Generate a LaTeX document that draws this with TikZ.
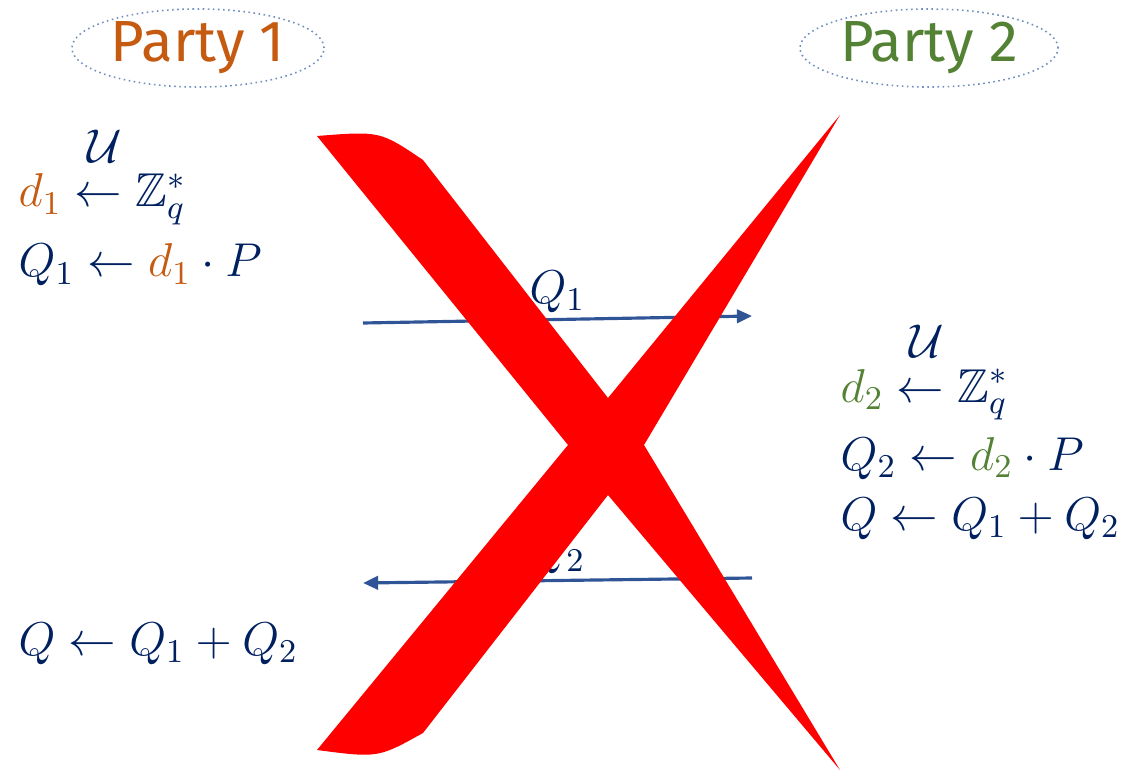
\RequirePackage{fix-cm}
\documentclass[tikz,border=0pt]{standalone}
\usepackage{amsmath,amssymb}
\usepackage{fontspec}
\newfontfamily\partyfont{Fira Sans}
\usetikzlibrary{arrows.meta,positioning,shapes.geometric}
\definecolor{partyone}{HTML}{C55A11}
\definecolor{partytwo}{HTML}{548235}
\definecolor{navy}{HTML}{002060}
\definecolor{msgblue}{HTML}{2F5597}
\definecolor{ringblue}{HTML}{6F8FC0}
\definecolor{crossred}{HTML}{FF0000}
\tikzset{
  partybox/.style={
    ellipse, draw=ringblue, densely dotted, line width=0.45pt,
    minimum width=2.52cm, minimum height=0.78cm, inner sep=0pt,
    text=#1, font=\partyfont\fontsize{16.5}{18}\selectfont
  },
  partybox/.default=partyone,
  mathline/.style={
    anchor=base west, inner sep=0pt, text=navy,
    font=\fontsize{13.5}{16}\selectfont
  },
  msgarrow/.style={
    -{Triangle[length=4.3pt, width=3.8pt]}, line width=0.9pt, color=#1
  },
  msgarrow/.default=msgblue,
  msglabel/.style={
    text=navy, font=\fontsize{13.5}{16}\selectfont, inner sep=1.5pt
  },
}
\newcommand{\drawfrom}{\mathrel{\overset{\raisebox{0.38em}{$\kern0.25em\mathcal{U}$}}{\leftarrow}}}

\begin{document}
\begin{tikzpicture}[x=0.01cm, y=-0.01cm]
  \useasboundingbox (0,0) rectangle (1130,770);
  % Parties
  \node[partybox] (party1) at (198,48) {Party 1};
  \node[partybox=partytwo, minimum width=2.58cm] (party2) at (929,48) {Party 2};
  % Party 1 side
  \node[mathline] (d1line) at (18,207)
    {$\textcolor{partyone}{d_1} \drawfrom \mathbb{Z}_q^*$};
  \node[mathline] (q1line) at (18,277)
    {$Q_1 \leftarrow \textcolor{partyone}{d_1} \cdot P$};
  \node[mathline] (sum1) at (18,655) {$Q \leftarrow Q_1 + Q_2$};
  % Party 2 side
  \node[mathline] (d2line) at (840,402)
    {$\textcolor{partytwo}{d_2} \drawfrom \mathbb{Z}_q^*$};
  \node[mathline] (q2line) at (840,470)
    {$Q_2 \leftarrow \textcolor{partytwo}{d_2} \cdot P$};
  \node[mathline] (sum2) at (840,530) {$Q \leftarrow Q_1 + Q_2$};
  % Messages
  \coordinate (q1from) at (363,323);
  \coordinate (q1to) at (752,316);
  \coordinate (q2from) at (752,578);
  \coordinate (q2to) at (363,583);
  \draw[msgarrow] (q1from) -- node[msglabel, above] (q1lab) {$Q_1$} (q1to);
  \draw[msgarrow] (q2from) -- node[msglabel, above] (q2lab) {$Q_2$} (q2to);
  % Cross
  \fill[crossred] (317,136) .. controls (380,131) .. (423,160)
    -- (608,398) -- (840,115) -- (644,445) -- (840,770) -- (608,495)
    -- (423,733) .. controls (378,758) .. (317,750) -- (568,445) -- cycle;
\end{tikzpicture}
\end{document}
